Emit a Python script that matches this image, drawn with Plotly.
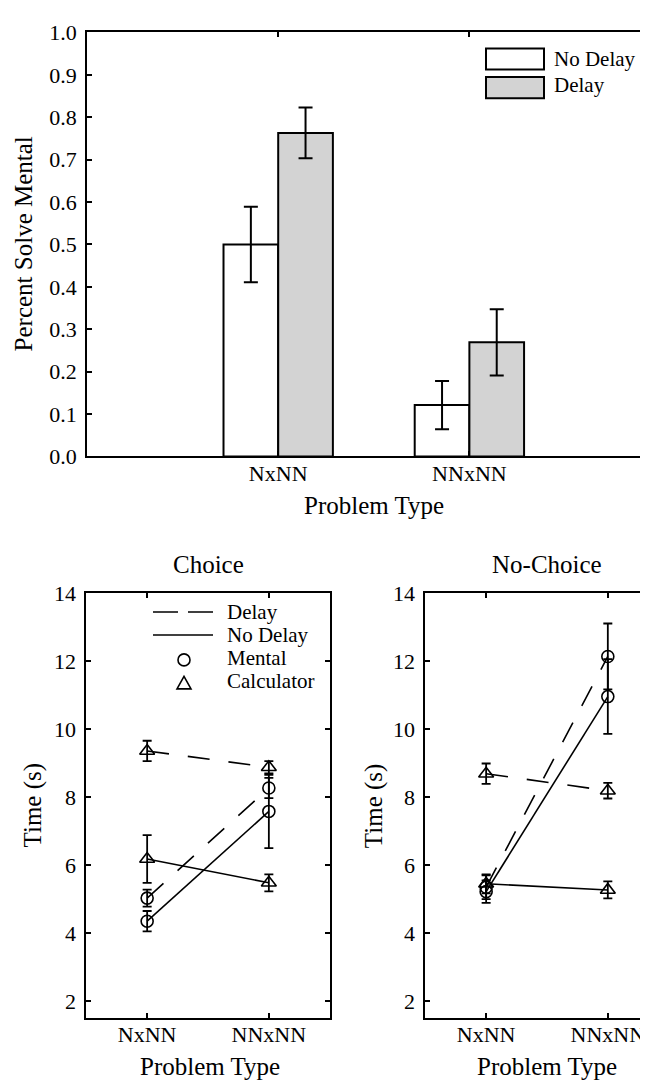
import plotly.graph_objects as go

W, H = 648, 1084
FONT = "Liberation Serif"

# ---------------- data ----------------
problem_types = ["NxNN", "NNxNN"]
cat_pos = [1, 2]

# Top panel: proportion solved mentally
pct_no_delay = [0.50, 0.121]
pct_no_delay_err = [0.089, 0.057]
pct_delay = [0.763, 0.269]
pct_delay_err = [0.060, 0.078]
pct_ticks = [0.0, 0.1, 0.2, 0.3, 0.4, 0.5, 0.6, 0.7, 0.8, 0.9, 1.0]

# Choice panel: time (s)
choice_mental_delay = [5.03, 8.27]
choice_mental_delay_err = [0.25, 0.30]
choice_mental_nodelay = [4.35, 7.58]
choice_mental_nodelay_err = [0.30, 1.08]
choice_calc_delay = [9.36, 8.88]
choice_calc_delay_err = [0.30, 0.18]
choice_calc_nodelay = [6.18, 5.48]
choice_calc_nodelay_err = [0.70, 0.25]

# No-Choice panel: time (s)
nochoice_mental_delay = [5.35, 12.14]
nochoice_mental_delay_err = [0.35, 0.97]
nochoice_mental_nodelay = [5.22, 10.96]
nochoice_mental_nodelay_err = [0.33, 1.10]
nochoice_calc_delay = [8.69, 8.19]
nochoice_calc_delay_err = [0.30, 0.23]
nochoice_calc_nodelay = [5.45, 5.27]
nochoice_calc_nodelay_err = [0.28, 0.25]

time_ticks = [2, 4, 6, 8, 10, 12, 14]


def px(x):
    return x / W


def py(y):
    return 1 - y / H


fig = go.Figure()

# ---------------- top bar chart ----------------
fig.add_trace(go.Bar(
    x=cat_pos, y=pct_no_delay, name="No Delay",
    marker=dict(color="white", line=dict(color="black", width=2)),
    error_y=dict(type="data", array=pct_no_delay_err, color="black", thickness=2, width=7),
    xaxis="x", yaxis="y", showlegend=False,
))
fig.add_trace(go.Bar(
    x=cat_pos, y=pct_delay, name="Delay",
    marker=dict(color="#d3d3d3", line=dict(color="black", width=2)),
    error_y=dict(type="data", array=pct_delay_err, color="black", thickness=2, width=7),
    xaxis="x", yaxis="y", showlegend=False,
))

# ---------------- line panels ----------------
DASH = "22px,19px"


def add_series(xa, ya, y, err, dash, symbol, size, name):
    fig.add_trace(go.Scatter(
        x=cat_pos, y=y, name=name, mode="lines+markers",
        line=dict(color="black", width=1.6, dash=dash),
        marker=dict(symbol=symbol, size=size, color="black", line=dict(color="black", width=1.6)),
        error_y=dict(type="data", array=err, color="black", thickness=1.8, width=4.5),
        xaxis=xa, yaxis=ya, showlegend=False,
    ))


add_series("x2", "y2", choice_calc_delay, choice_calc_delay_err, DASH, "triangle-up-open", 13, "Delay Calculator")
add_series("x2", "y2", choice_mental_delay, choice_mental_delay_err, DASH, "circle-open", 12, "Delay Mental")
add_series("x2", "y2", choice_calc_nodelay, choice_calc_nodelay_err, "solid", "triangle-up-open", 13, "No Delay Calculator")
add_series("x2", "y2", choice_mental_nodelay, choice_mental_nodelay_err, "solid", "circle-open", 12, "No Delay Mental")

add_series("x3", "y3", nochoice_calc_delay, nochoice_calc_delay_err, DASH, "triangle-up-open", 13, "Delay Calculator")
add_series("x3", "y3", nochoice_mental_delay, nochoice_mental_delay_err, DASH, "circle-open", 12, "Delay Mental")
add_series("x3", "y3", nochoice_calc_nodelay, nochoice_calc_nodelay_err, "solid", "triangle-up-open", 13, "No Delay Calculator")
add_series("x3", "y3", nochoice_mental_nodelay, nochoice_mental_nodelay_err, "solid", "circle-open", 12, "No Delay Mental")

tick_style = dict(
    ticks="inside", ticklen=5, tickwidth=1.5, tickcolor="black",
    showgrid=False, zeroline=False,
    tickfont=dict(family=FONT, size=22, color="black"),
)
axis_common = dict(showline=True, linecolor="black", linewidth=1.8, mirror="ticks", **tick_style)
axis_open_right = dict(showline=True, linecolor="black", linewidth=1.8, mirror=False, **tick_style)
# right-side ticks only (the right border of these panels is cropped off in the figure)
right_ticks_only = dict(showline=False, side="right", showticklabels=False, **tick_style)

TOP_Y = [py(446.7), py(12.7)]
BOT_Y = [py(1021.6), py(586.8)]

fig.update_layout(
    width=W, height=H,
    margin=dict(l=0, r=0, t=0, b=0),
    paper_bgcolor="white", plot_bgcolor="white",
    font=dict(family=FONT, color="black"),
    barmode="group", bargap=0.428, bargroupgap=0,
    showlegend=False,
    xaxis=dict(domain=[px(79), 1.0], range=[0, 2.976], tickvals=cat_pos, ticktext=problem_types,
               anchor="y", ticklabelstandoff=-4, **axis_common),
    yaxis=dict(domain=TOP_Y, range=[0, 1], tickvals=pct_ticks, tickformat=".1f",
               anchor="x", ticklabelstandoff=4, **axis_open_right),
    yaxis4=dict(domain=TOP_Y, range=[0, 1], tickvals=pct_ticks, overlaying="y",
                anchor="x", **right_ticks_only),
    xaxis2=dict(domain=[px(78.3), px(321.7)], range=[0.5, 2.5], tickvals=cat_pos, ticktext=problem_types,
                anchor="y2", ticklabelstandoff=-4, **axis_common),
    yaxis2=dict(domain=BOT_Y, range=[1.5, 14], tickvals=time_ticks,
                anchor="x2", ticklabelstandoff=4, **axis_common),
    xaxis3=dict(domain=[px(417.3), 1.0], range=[0.5, 2.396], tickvals=cat_pos, ticktext=problem_types,
                anchor="y3", ticklabelstandoff=-4, **axis_common),
    yaxis3=dict(domain=BOT_Y, range=[1.5, 14], tickvals=time_ticks,
                anchor="x3", ticklabelstandoff=4, **axis_open_right),
    yaxis5=dict(domain=BOT_Y, range=[1.5, 14], tickvals=time_ticks, overlaying="y3",
                anchor="x3", **right_ticks_only),
)

TITLE_FONT = dict(family=FONT, size=25, color="black")
LEG_FONT = dict(family=FONT, size=21, color="black")

annotations = [
    # axis titles
    dict(text="Percent Solve Mental", x=px(15), y=py(229.7), textangle=-90, font=TITLE_FONT),
    dict(text="Problem Type", x=px(366), y=py(496.7), font=TITLE_FONT),
    dict(text="Choice", x=px(200), y=py(557.3), font=TITLE_FONT),
    dict(text="No-Choice", x=px(539.3), y=py(557.3), font=TITLE_FONT),
    dict(text="Time (s)", x=px(25), y=py(804), textangle=-90, font=TITLE_FONT),
    dict(text="Time (s)", x=px(366.7), y=py(804), textangle=-90, font=TITLE_FONT),
    dict(text="Problem Type", x=px(202), y=py(1070.9), font=TITLE_FONT),
    dict(text="Problem Type", x=px(539), y=py(1070.9), font=TITLE_FONT),
    # top legend text
    dict(text="No Delay", x=px(544), y=py(39.5), xanchor="left", font=LEG_FONT),
    dict(text="Delay", x=px(544), y=py(67), xanchor="left", font=LEG_FONT),
    # bottom legend text
    dict(text="Delay", x=px(217), y=py(605.9), xanchor="left", font=LEG_FONT),
    dict(text="No Delay", x=px(217), y=py(629.5), xanchor="left", font=LEG_FONT),
    dict(text="Mental", x=px(217), y=py(652.8), xanchor="left", font=LEG_FONT),
    dict(text="Calculator", x=px(217), y=py(676.4), xanchor="left", font=LEG_FONT),
]
for a in annotations:
    a.update(xref="paper", yref="paper", showarrow=False)
    a.setdefault("xanchor", "center")
    a.setdefault("yanchor", "middle")
fig.update_layout(annotations=annotations)

shapes = [
    # top legend boxes
    dict(type="rect", xref="paper", yref="paper", x0=px(478), x1=px(536), y0=py(50.7), y1=py(29.3),
         fillcolor="white", line=dict(color="black", width=2)),
    dict(type="rect", xref="paper", yref="paper", x0=px(478), x1=px(536), y0=py(80), y1=py(58.3),
         fillcolor="#d3d3d3", line=dict(color="black", width=2)),
    # bottom legend lines
    dict(type="line", xref="paper", yref="paper", x0=px(145), x1=px(205), y0=py(605.9), y1=py(605.9),
         line=dict(color="black", width=1.6, dash="25px,10px")),
    dict(type="line", xref="paper", yref="paper", x0=px(145), x1=px(205), y0=py(629.5), y1=py(629.5),
         line=dict(color="black", width=1.6)),
    # legend circle
    dict(type="circle", xref="paper", yref="paper", xsizemode="pixel", ysizemode="pixel",
         xanchor=px(176), yanchor=py(655), x0=-6, x1=6, y0=-6, y1=6,
         line=dict(color="black", width=1.6)),
    # legend triangle
    dict(type="path", xref="paper", yref="paper", xsizemode="pixel", ysizemode="pixel",
         xanchor=px(176), yanchor=py(679), path="M -7,-5.5 L 7,-5.5 L 0,7 Z",
         line=dict(color="black", width=1.6)),
]
fig.update_layout(shapes=shapes)

fig.write_html("out.html")
